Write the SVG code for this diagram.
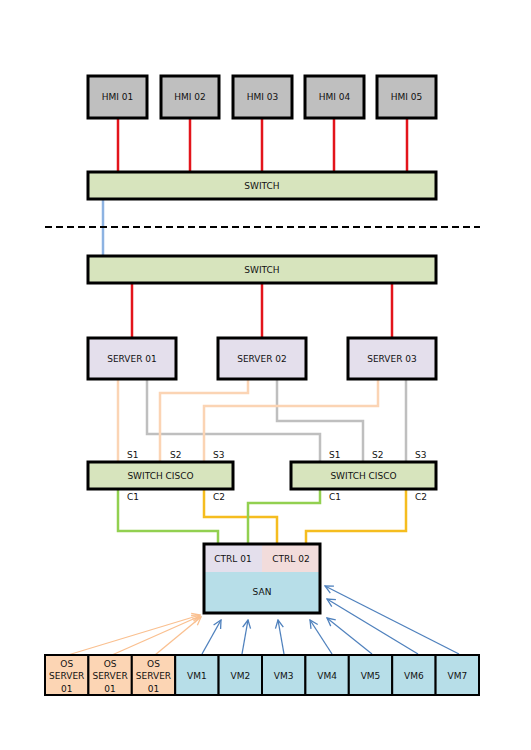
<svg xmlns="http://www.w3.org/2000/svg" width="531" height="750" viewBox="0 0 531 750">
<style>
text{font-family:"DejaVu Sans","Liberation Sans",sans-serif;font-size:9px;fill:#111;text-anchor:middle;dominant-baseline:central}
.box{stroke:#000;stroke-width:3}
.thin{stroke:#000;stroke-width:2}
.hmi{fill:#bfbfbf}
.sw{fill:#d7e4bd}
.srv{fill:#e4dfec}
.os{fill:#fcd5b4}
.vm{fill:#b7dee8}
.l{fill:none;stroke-width:2.5}
.red{stroke:#e3141b}
.peach{stroke:#fbd4b4}
.gray{stroke:#bfbfbf}
.green{stroke:#92d050}
.orange{stroke:#f5bd1f}
.blue{stroke:#8db3e2}
.ab{stroke:#4f81bd;stroke-width:1.3;fill:none}
.ap{stroke:#fac090;stroke-width:1.3;fill:none}
.lbl{text-anchor:start}
</style>
<defs>
<marker id="mb" markerWidth="10" markerHeight="10" refX="9" refY="5" orient="auto" markerUnits="userSpaceOnUse"><path d="M1,1 L9,5 L1,9" fill="none" stroke="#4f81bd" stroke-width="1.3"/></marker>
<marker id="mp" markerWidth="10" markerHeight="10" refX="9" refY="5" orient="auto" markerUnits="userSpaceOnUse"><path d="M1,1 L9,5 L1,9" fill="none" stroke="#fac090" stroke-width="1.3"/></marker>
</defs>
<rect width="531" height="750" fill="#fff"/>
<g id="connectors">
<path class="l red" d="M118,118V172M190,118V172M262,118V172M334,118V172M407,118V172"/>
<path class="l blue" d="M103,199V256"/>
<path d="M45,227H480" stroke="#000" stroke-width="2" stroke-dasharray="7,4"/>
<path class="l red" d="M132,283V338M262,283V338M392,283V338"/>
<path class="l peach" d="M118,379V462"/>
<path class="l gray" d="M147,379V434H320V462"/>
<path class="l peach" d="M248,379V393H160V462"/>
<path class="l gray" d="M277,379V421H363V462"/>
<path class="l peach" d="M378,379V406H204V462"/>
<path class="l gray" d="M406,379V462"/>
<path class="l green" d="M118,489V531H218V544"/>
<path class="l orange" d="M204,489V517H277V544"/>
<path class="l green" d="M320,489V503H248V544"/>
<path class="l orange" d="M406,489V531H306V544"/>
<path class="ap" marker-end="url(#mp)" d="M68,655L200,615"/>
<path class="ap" marker-end="url(#mp)" d="M112,655L200,616"/>
<path class="ap" marker-end="url(#mp)" d="M155,655L201,617"/>
<path class="ab" marker-end="url(#mb)" d="M202,654L221,620"/>
<path class="ab" marker-end="url(#mb)" d="M242,654L248,620"/>
<path class="ab" marker-end="url(#mb)" d="M284,654L278,620"/>
<path class="ab" marker-end="url(#mb)" d="M332,654L310,620"/>
<path class="ab" marker-end="url(#mb)" d="M372,654L327,618"/>
<path class="ab" marker-end="url(#mb)" d="M418,654L327,599"/>
<path class="ab" marker-end="url(#mb)" d="M459,654L325,586"/>
</g>
<g id="hmi01"><rect class="box hmi" x="88" y="76" width="59" height="42"/><text x="117.5" y="97">HMI 01</text></g>
<g id="hmi02"><rect class="box hmi" x="161" y="76" width="58" height="42"/><text x="190" y="97">HMI 02</text></g>
<g id="hmi03"><rect class="box hmi" x="233" y="76" width="59" height="42"/><text x="262.5" y="97">HMI 03</text></g>
<g id="hmi04"><rect class="box hmi" x="305" y="76" width="59" height="42"/><text x="334.5" y="97">HMI 04</text></g>
<g id="hmi05"><rect class="box hmi" x="377" y="76" width="59" height="42"/><text x="406.5" y="97">HMI 05</text></g>
<g id="switch1"><rect class="box sw" x="88" y="172" width="348" height="27"/><text x="262" y="186">SWITCH</text></g>
<g id="switch2"><rect class="box sw" x="88" y="256" width="348" height="27"/><text x="262" y="269.5">SWITCH</text></g>
<g id="server01"><rect class="box srv" x="88" y="338" width="88" height="41"/><text x="132" y="358.5">SERVER 01</text></g>
<g id="server02"><rect class="box srv" x="218" y="338" width="88" height="41"/><text x="262" y="358.5">SERVER 02</text></g>
<g id="server03"><rect class="box srv" x="348" y="338" width="88" height="41"/><text x="392" y="358.5">SERVER 03</text></g>
<g id="cisco1"><rect class="box sw" x="88" y="462" width="145" height="27"/><text x="160.5" y="475.5">SWITCH CISCO</text>
<text class="lbl" x="127" y="455">S1</text><text class="lbl" x="170" y="455">S2</text><text class="lbl" x="213" y="455">S3</text>
<text class="lbl" x="127" y="497">C1</text><text class="lbl" x="213" y="497">C2</text></g>
<g id="cisco2"><rect class="box sw" x="291" y="462" width="145" height="27"/><text x="363.5" y="475.5">SWITCH CISCO</text>
<text class="lbl" x="329" y="455">S1</text><text class="lbl" x="372" y="455">S2</text><text class="lbl" x="415" y="455">S3</text>
<text class="lbl" x="329" y="497">C1</text><text class="lbl" x="415" y="497">C2</text></g>
<g id="san">
<rect x="204" y="544" width="116" height="69" fill="#b7dee8"/>
<rect x="204" y="544" width="58" height="28" fill="#e4dfec"/>
<rect x="262" y="544" width="58" height="28" fill="#f2dcdb"/>
<rect x="204" y="544" width="116" height="69" fill="none" stroke="#000" stroke-width="3"/>
<text x="233" y="559">CTRL 01</text><text x="291" y="559">CTRL 02</text><text x="262" y="592">SAN</text>
</g>
<g id="os1"><rect class="thin os" x="45" y="655" width="43.4" height="40"/><text x="66.7" y="664">OS</text><text x="66.7" y="676">SERVER</text><text x="66.7" y="689">01</text></g>
<g id="os2"><rect class="thin os" x="88.4" y="655" width="43.4" height="40"/><text x="110.1" y="664">OS</text><text x="110.1" y="676">SERVER</text><text x="110.1" y="689">01</text></g>
<g id="os3"><rect class="thin os" x="131.8" y="655" width="43.4" height="40"/><text x="153.5" y="664">OS</text><text x="153.5" y="676">SERVER</text><text x="153.5" y="689">01</text></g>
<g id="vm1"><rect class="thin vm" x="175.2" y="655" width="43.4" height="40"/><text x="196.9" y="676">VM1</text></g>
<g id="vm2"><rect class="thin vm" x="218.6" y="655" width="43.4" height="40"/><text x="240.3" y="676">VM2</text></g>
<g id="vm3"><rect class="thin vm" x="262" y="655" width="43.4" height="40"/><text x="283.7" y="676">VM3</text></g>
<g id="vm4"><rect class="thin vm" x="305.4" y="655" width="43.4" height="40"/><text x="327.1" y="676">VM4</text></g>
<g id="vm5"><rect class="thin vm" x="348.8" y="655" width="43.4" height="40"/><text x="370.5" y="676">VM5</text></g>
<g id="vm6"><rect class="thin vm" x="392.2" y="655" width="43.4" height="40"/><text x="413.9" y="676">VM6</text></g>
<g id="vm7"><rect class="thin vm" x="435.6" y="655" width="43.4" height="40"/><text x="457.3" y="676">VM7</text></g>
</svg>
